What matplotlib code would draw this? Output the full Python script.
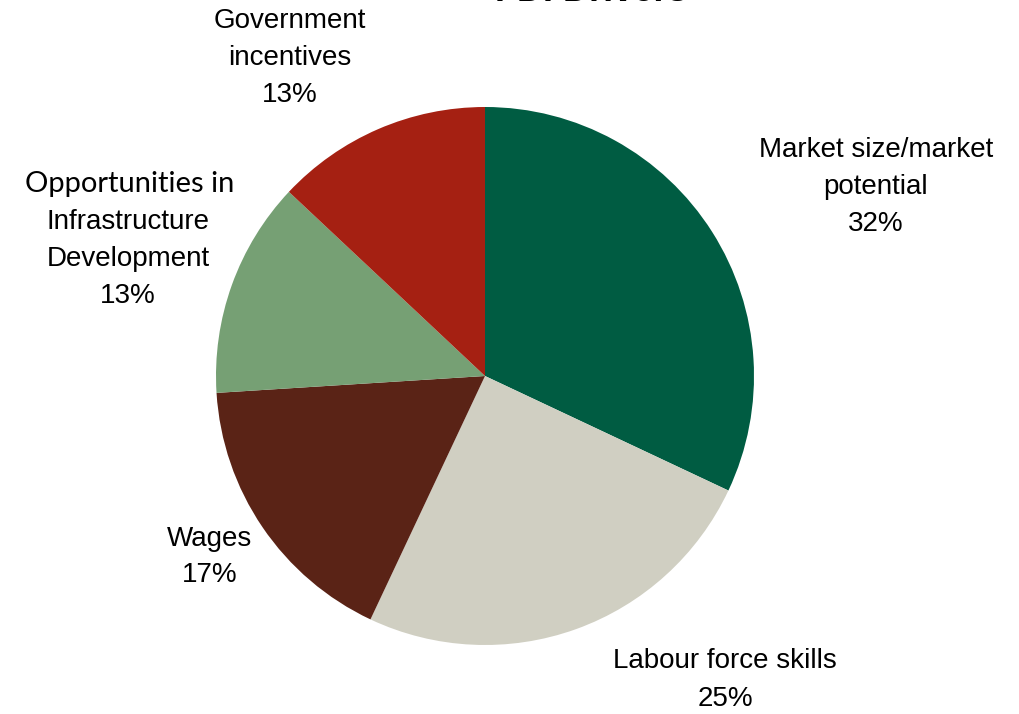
import matplotlib
matplotlib.use('Agg')
import matplotlib.pyplot as plt

# FDI driver shares (percent), clockwise from 12 o'clock
drivers = ['Market size/market\npotential', 'Labour force skills', 'Wages',
           'Opportunities in\nInfrastructure\nDevelopment', 'Government\nincentives']
shares = [32, 25, 17, 13, 13]
colors = ['#005c42', '#d0cfc2', '#5a2316', '#76a074', '#a52012']

W, H = 1020, 714
fig = plt.figure(figsize=(W / 100, H / 100), dpi=100)
ax = fig.add_axes([0, 0, 1, 1])

ax.pie(shares, colors=colors, startangle=90, counterclock=False,
       center=(485, H - 376), radius=269, frame=True,
       wedgeprops=dict(linewidth=0))
ax.set_xlim(0, W)
ax.set_ylim(0, H)
ax.set_aspect('equal')
ax.axis('off')

font = dict(family='Liberation Sans', fontsize=20, color='black',
            ha='center', va='center', linespacing=1.55)

# label anchor points in pixels from the top-left corner
label_pos = [(876, 187), (725, 680), (210, 557), (128, 240), (290, 58)]

for name, share, (px, py) in zip(drivers, shares, label_pos):
    y = H - py
    if name.startswith('Opportunities'):
        # first line is set in a geometric face
        ax.text(px + 2, H - 184, 'Opportunities in', family='Lato',
                fontsize=21, ha='center', va='center')
        rest = name.split('\n', 1)[1]
        ax.text(px, H - 259, f'{rest}\n{share}%', **font)
    else:
        ax.text(px, y, f'{name}\n{share}%', **font)

fig.text(591 / W, 1 - 1 / H, 'FDI Drivers', family='Liberation Sans',
         weight='bold', fontsize=26, ha='center', va='baseline')

fig.savefig('out.png', dpi=100)
